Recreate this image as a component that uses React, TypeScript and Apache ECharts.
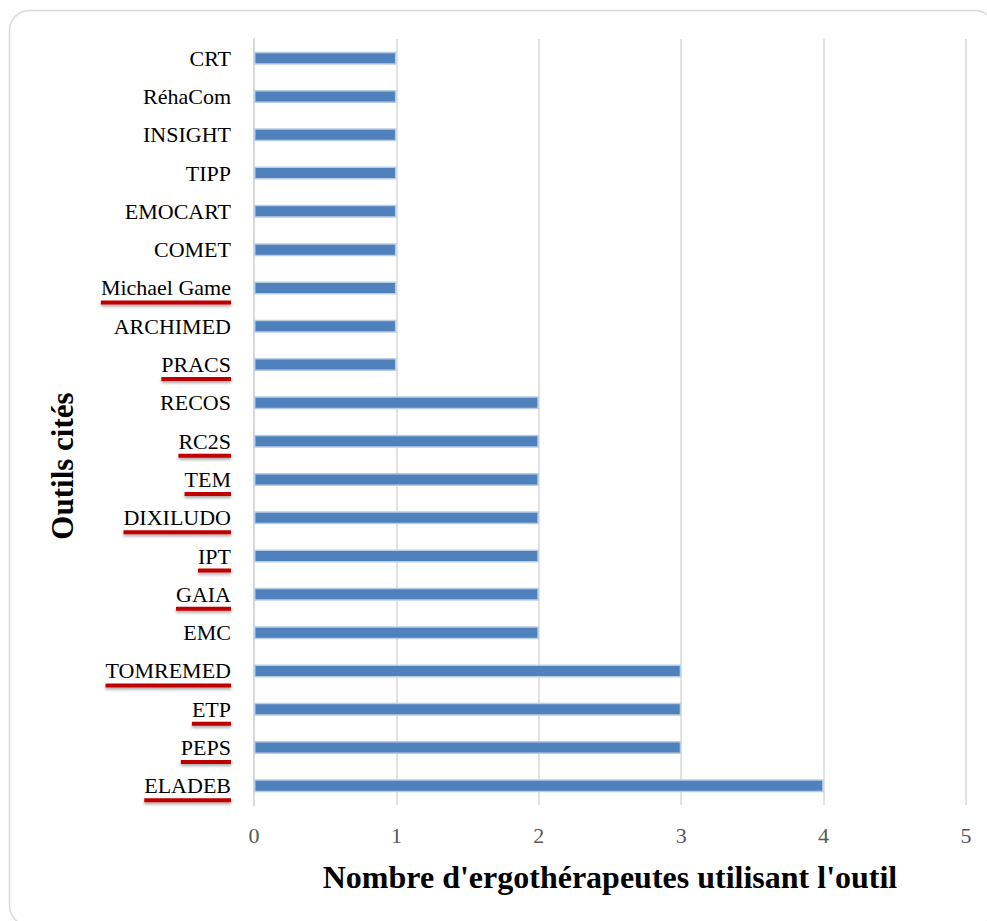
import React, { useEffect, useRef } from "react";
import * as echarts from "echarts";

// Categories listed from top to bottom
const categories: string[] = [
  "CRT",
  "RéhaCom",
  "INSIGHT",
  "TIPP",
  "EMOCART",
  "COMET",
  "Michael Game",
  "ARCHIMED",
  "PRACS",
  "RECOS",
  "RC2S",
  "TEM",
  "DIXILUDO",
  "IPT",
  "GAIA",
  "EMC",
  "TOMREMED",
  "ETP",
  "PEPS",
  "ELADEB",
];

const values: number[] = [1, 1, 1, 1, 1, 1, 1, 1, 1, 2, 2, 2, 2, 2, 2, 2, 3, 3, 3, 4];

// Labels underlined in red in the reference
const underlined: string[] = [
  "Michael Game",
  "PRACS",
  "RC2S",
  "TEM",
  "DIXILUDO",
  "IPT",
  "GAIA",
  "TOMREMED",
  "ETP",
  "PEPS",
  "ELADEB",
];

const xTicks: number[] = [0, 1, 2, 3, 4, 5];

const xName = "Nombre d'ergothérapeutes utilisant l'outil";
const yName = "Outils cités";

export default function App() {
  const ref = useRef<HTMLDivElement>(null);

  useEffect(() => {
    if (!ref.current) return;
    const chart = echarts.init(ref.current, null, { renderer: "svg" });
    const option: any = {
      animation: false,
      backgroundColor: "#ffffff",
      grid: { left: 254, right: 21, top: 39, bottom: 116, containLabel: false },
      graphic: [
        {
          type: "rect",
          shape: { x: 9.5, y: 10.5, width: 985, height: 915, r: 20 },
          style: { fill: "none", stroke: "#d9d9d9", lineWidth: 1.5 },
          silent: true,
          z: -10,
        },
        {
          type: "text",
          x: 62,
          y: 466,
          rotation: Math.PI / 2,
          style: {
            text: yName,
            fontFamily: "Liberation Serif",
            fontWeight: "bold",
            fontSize: 31,
            fill: "#000000",
            align: "center",
            verticalAlign: "middle",
          },
        },
      ],
      xAxis: {
        type: "value",
        min: xTicks[0],
        max: xTicks[xTicks.length - 1],
        interval: 1,
        name: xName,
        nameLocation: "middle",
        nameGap: 56,
        nameTextStyle: {
          fontFamily: "Liberation Serif",
          fontWeight: "bold",
          fontSize: 32,
          color: "#000000",
        },
        axisLine: { show: false },
        axisTick: { show: false },
        axisLabel: {
          margin: 19,
          fontFamily: "Liberation Serif",
          fontSize: 22,
          color: "#595959",
        },
        splitLine: { show: true, lineStyle: { color: "#d9d9d9", width: 1.5 } },
      },
      yAxis: {
        type: "category",
        inverse: true,
        data: categories,
        axisLine: { show: true, lineStyle: { color: "#d9d9d9", width: 2 } },
        axisTick: { show: false },
        axisLabel: {
          margin: 23,
          align: "right",
          interval: 0,
          showMinLabel: true,
          showMaxLabel: true,
          hideOverlap: false,
          formatter: (v: string) =>
            underlined.includes(v) ? `{s|}\n{t|${v}}\n{u|}` : `{t|${v}}`,
          rich: {
            t: {
              fontFamily: "Liberation Serif",
              fontSize: 22,
              lineHeight: 22,
              color: "#000000",
              align: "right",
            },
            s: { height: 7, lineHeight: 7, align: "right" },
            u: {
              width: "100%",
              height: 4,
              lineHeight: 7,
              align: "right",
              backgroundColor: "#c00000",
              shadowColor: "rgba(0,0,0,0.35)",
              shadowBlur: 3,
              shadowOffsetY: 2,
            },
          },
        },
      },
      series: [
        {
          type: "bar",
          data: values,
          barWidth: 13,
          itemStyle: {
            color: "#4f81bd",
            borderColor: "#b9cde5",
            borderWidth: 1.5,
          },
        },
      ],
    };
    chart.setOption(option);
    return () => chart.dispose();
  }, []);

  return (
    <div
      ref={ref}
      style={{ position: "fixed", left: 0, top: 0, width: 987, height: 921 }}
    />
  );
}
